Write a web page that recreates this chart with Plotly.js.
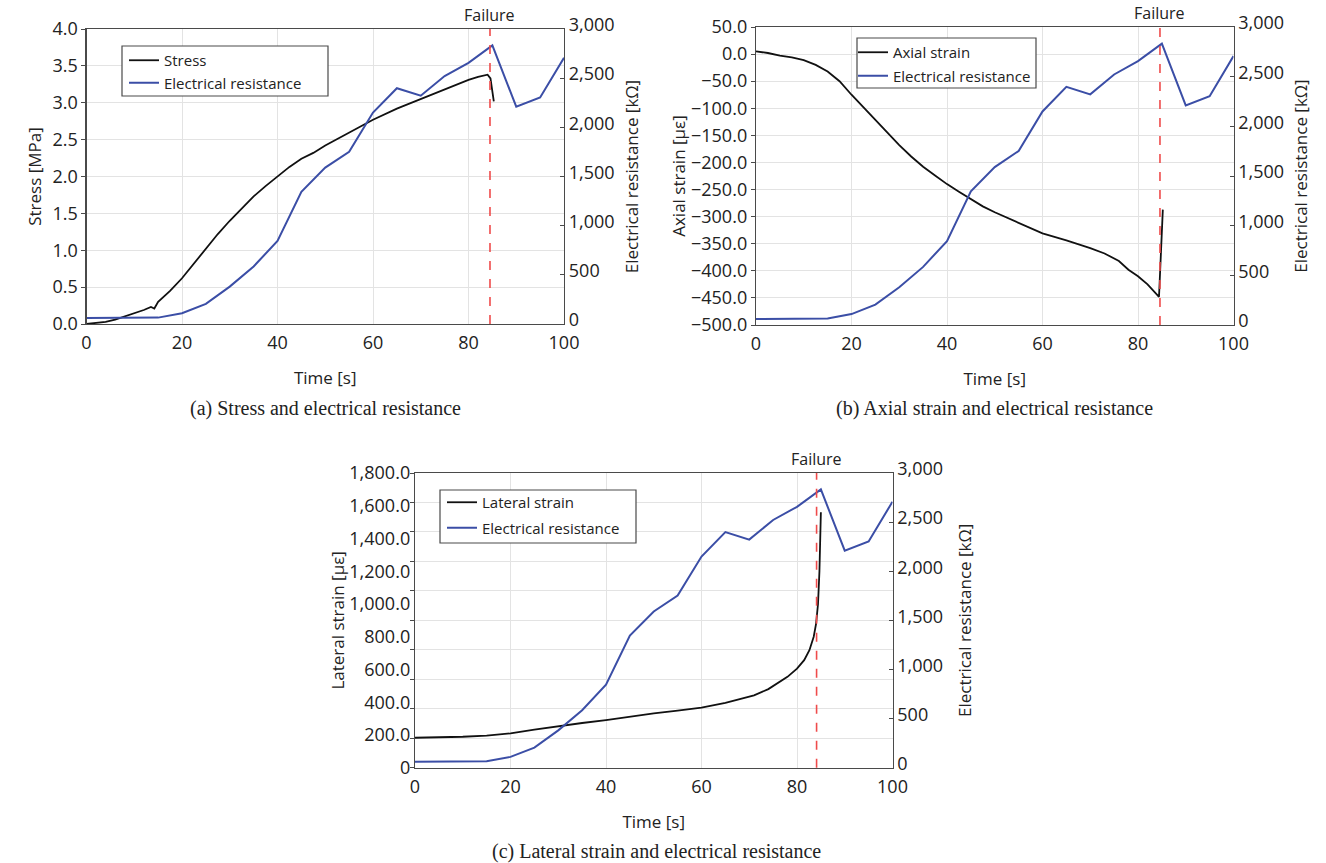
<!DOCTYPE html>
<html>
<head>
<meta charset="utf-8">
<script src="https://cdn.plot.ly/plotly-3.0.1.min.js"></script>
<style>html,body{margin:0;padding:0;background:#fff;}#chart{width:1326px;height:863px;}</style>
</head>
<body>
<div id="chart"></div>
<script>
// ---- Data ----
const resistanceTime   = [0, 5, 10, 15, 20, 25, 30, 35, 40, 45, 50, 55, 60, 65, 70, 75, 80, 85, 90, 95, 100];
const resistanceValues = [60, 60, 60, 65, 110, 205, 380, 585, 845, 1345, 1590, 1752, 2150, 2398, 2322, 2522, 2656, 2833, 2210, 2303, 2708];

const stressTime   = [0, 2, 4, 6, 8, 10, 12, 13.5, 14.2, 15, 17.5, 20, 22.5, 25, 27.5, 30, 32.5, 35, 37.5, 40, 42.5, 45, 47.5, 50, 55, 60, 65, 70, 75, 80, 82, 84, 84.6, 85, 85.3];
const stressValues = [0.0, 0.01, 0.03, 0.06, 0.10, 0.14, 0.19, 0.23, 0.21, 0.30, 0.45, 0.62, 0.82, 1.02, 1.22, 1.40, 1.57, 1.73, 1.87, 2.00, 2.13, 2.24, 2.32, 2.42, 2.60, 2.77, 2.92, 3.05, 3.19, 3.31, 3.35, 3.38, 3.33, 3.15, 3.02];

const axialTime   = [0, 2.5, 5, 7.5, 10, 12.5, 15, 17.5, 20, 22.5, 25, 27.5, 30, 32.5, 35, 37.5, 40, 42.5, 45, 47.5, 50, 55, 60, 65, 70, 73, 76, 78, 80, 82, 83.5, 84.4, 85.2];
const axialValues = [5, 2, -3, -6, -11, -20, -32, -50, -75, -98, -121, -145, -168, -189, -208, -224, -240, -254, -268, -281, -292, -312, -331, -344, -358, -368, -382, -398, -410, -425, -440, -448, -287];

const lateralTime   = [0, 5, 10, 15, 20, 25, 30, 35, 40, 45, 50, 55, 60, 65, 68, 71, 74, 76, 78, 80, 81.5, 82.6, 83.5, 84.0, 84.4, 84.7, 85.0];
const lateralValues = [183, 185, 189, 196, 210, 233, 254, 273, 291, 312, 332, 349, 367, 396, 418, 442, 480, 515, 555, 605, 657, 718, 800, 880, 1000, 1200, 1560];

const failureTimes = [84.5, 84.6, 84.1];

const lateralTickVals = [0, 200, 400, 600, 800, 1000, 1200, 1400, 1600, 1800];
const lateralTickText = ['0', '200.0', '400.0', '600.0', '800.0', '1,000.0', '1,200.0', '1,400.0', '1,600.0', '1,800.0'];

const seriesNames = ['Stress', 'Axial strain', 'Lateral strain', 'Electrical resistance'];
const captions = ['(a) Stress and electrical resistance', '(b) Axial strain and electrical resistance', '(c) Lateral strain and electrical resistance'];
const leftTitles = ['Stress [MPa]', 'Axial strain [με]', 'Lateral strain [με]'];
const rightTitle = 'Electrical resistance [kΩ]';

// ---- Styling / layout ----
const W = 1326, H = 863;
const BLACK = '#111111', BLUE = '#3b4ea6', RED = '#ef4b4b';
const GRID = '#e3e3e3', LINE = '#4a4a4a';

// panel plot-area boxes in pixels [left, right, top, bottom]
const boxes = [[86.5, 564, 29, 324], [756, 1233.5, 27, 325], [415, 892.5, 473, 767.7]];
const leftStandoff = [6, 1, 0];
const rightStandoff = [12, 12, 17];
// legend frames [left, right, top, bottom] and legend anchor [x, y, extra gap]
const legendFrames = [[122, 328, 46, 96], [857, 1036, 38, 88], [440, 636, 490, 543]];
const legendAnchors = [[124, 44, 0], [853, 36, 1], [442, 486, 3]];
const xd = b => [b[0] / W, b[1] / W];
const yd = b => [1 - b[3] / H, 1 - b[2] / H];

function xAxis(b, anchor) {
  return {
    domain: xd(b), anchor: anchor, range: [0, 100], tick0: 0, dtick: 20,
    showgrid: true, gridcolor: GRID, gridwidth: 1, zeroline: false,
    showline: true, linecolor: LINE, linewidth: 1.2, mirror: true,
    ticks: '', ticklabelstandoff: 2, tickfont: {size: 18, color: '#222'},
    title: {text: 'Time [s]', font: {size: 17, color: '#222'}, standoff: 19}
  };
}
function rightAxis(over, anchor, i) {
  return {
    overlaying: over, side: 'right', anchor: anchor, range: [0, 3000], tick0: 0, dtick: 500,
    tickformat: ',d', showgrid: false, zeroline: false, showline: true, linecolor: LINE, linewidth: 1.2,
    ticks: 'inside', ticklen: 4, tickcolor: LINE, ticklabelshift: -4, tickfont: {size: 18, color: '#222'},
    title: {text: rightTitle, font: {size: 17, color: '#222'}, standoff: rightStandoff[i]}
  };
}
function leftCommon(b, anchor, title, i) {
  return {
    domain: yd(b), anchor: anchor, zeroline: false, showline: true, linecolor: LINE, linewidth: 1.2,
    mirror: true, showgrid: true, gridcolor: GRID, ticks: 'outside', ticklen: 4, tickcolor: LINE,
    tickfont: {size: 18, color: '#222'},
    title: {text: title, font: {size: 17, color: '#222'}, standoff: leftStandoff[i]}
  };
}

const traces = [
  {x: stressTime, y: stressValues, name: seriesNames[0], xaxis: 'x', yaxis: 'y', mode: 'lines', line: {color: BLACK, width: 1.8}, legend: 'legend', legendgroup: 'a1'},
  {x: resistanceTime, y: resistanceValues, name: seriesNames[3], xaxis: 'x', yaxis: 'y2', mode: 'lines', line: {color: BLUE, width: 2}, legend: 'legend', legendgroup: 'a2'},
  {x: axialTime, y: axialValues, name: seriesNames[1], xaxis: 'x2', yaxis: 'y3', mode: 'lines', line: {color: BLACK, width: 1.8}, legend: 'legend2', legendgroup: 'b1'},
  {x: resistanceTime, y: resistanceValues, name: seriesNames[3], xaxis: 'x2', yaxis: 'y4', mode: 'lines', line: {color: BLUE, width: 2}, legend: 'legend2', legendgroup: 'b2'},
  {x: lateralTime, y: lateralValues, name: seriesNames[2], xaxis: 'x3', yaxis: 'y5', mode: 'lines', line: {color: BLACK, width: 1.8}, legend: 'legend3', legendgroup: 'c1'},
  {x: resistanceTime, y: resistanceValues, name: seriesNames[3], xaxis: 'x3', yaxis: 'y6', mode: 'lines', line: {color: BLUE, width: 2}, legend: 'legend3', legendgroup: 'c2'}
];

const ya = leftCommon(boxes[0], 'x', leftTitles[0], 0);
Object.assign(ya, {range: [0, 4], tick0: 0, dtick: 0.5, tickformat: '.1f'});
const y3 = leftCommon(boxes[1], 'x2', leftTitles[1], 1);
Object.assign(y3, {range: [-500, 50], tick0: 0, dtick: 50, tickformat: '.1f'});
const y5 = leftCommon(boxes[2], 'x3', leftTitles[2], 2);
Object.assign(y5, {range: [0, 1800], tickmode: 'array', tickvals: lateralTickVals, ticktext: lateralTickText,
  showgrid: false, ticks: '',
  minor: {tickmode: 'linear', tick0: 0, dtick: 180, showgrid: true, gridcolor: GRID, ticks: 'outside', ticklen: 4, tickcolor: LINE}});

function legendAt(a) {
  return {x: a[0] / W, y: 1 - a[1] / H, xanchor: 'left', yanchor: 'top', bgcolor: 'rgba(0,0,0,0)',
    borderwidth: 0, font: {size: 15, color: '#222'}, itemwidth: 30, tracegroupgap: a[2]};
}

const shapes = [], annotations = [];
legendFrames.forEach(f => {
  shapes.push({type: 'rect', xref: 'paper', yref: 'paper', layer: 'above',
    x0: f[0] / W, x1: f[1] / W, y0: 1 - f[3] / H, y1: 1 - f[2] / H,
    fillcolor: 'white', line: {color: LINE, width: 1.2}});
});
const xr = ['x', 'x2', 'x3'], yr = ['y', 'y3', 'y5'];
failureTimes.forEach((f, i) => {
  shapes.push({type: 'line', xref: xr[i], yref: yr[i] + ' domain', x0: f, x1: f, y0: 0, y1: 1,
    line: {color: RED, width: 1.6, dash: 'dash'}});
  annotations.push({xref: xr[i], yref: yr[i] + ' domain', x: f, y: 1, yanchor: 'bottom', yshift: 1,
    text: 'Failure', showarrow: false, font: {size: 16, color: '#222'}});
});
const capPos = [[325.5, 408], [994.5, 408], [656, 851]];
captions.forEach((c, i) => {
  annotations.push({xref: 'paper', yref: 'paper', x: capPos[i][0] / W, y: 1 - capPos[i][1] / H,
    xanchor: 'center', yanchor: 'middle', text: c, showarrow: false,
    font: {family: 'Liberation Serif, Times New Roman, serif', size: 20, color: '#222'}});
});

const layout = {
  width: W, height: H, margin: {l: 0, r: 0, t: 0, b: 0},
  paper_bgcolor: 'white', plot_bgcolor: 'white',
  font: {family: 'Open Sans, sans-serif', size: 17, color: '#222'},
  showlegend: true,
  xaxis: xAxis(boxes[0], 'y'), xaxis2: xAxis(boxes[1], 'y3'), xaxis3: xAxis(boxes[2], 'y5'),
  yaxis: ya, yaxis2: rightAxis('y', 'x', 0),
  yaxis3: y3, yaxis4: rightAxis('y3', 'x2', 1),
  yaxis5: y5, yaxis6: rightAxis('y5', 'x3', 2),
  legend: legendAt(legendAnchors[0]), legend2: legendAt(legendAnchors[1]), legend3: legendAt(legendAnchors[2]),
  shapes: shapes, annotations: annotations
};

Plotly.newPlot('chart', traces, layout, {displayModeBar: false, staticPlot: true});
</script>
</body>
</html>
